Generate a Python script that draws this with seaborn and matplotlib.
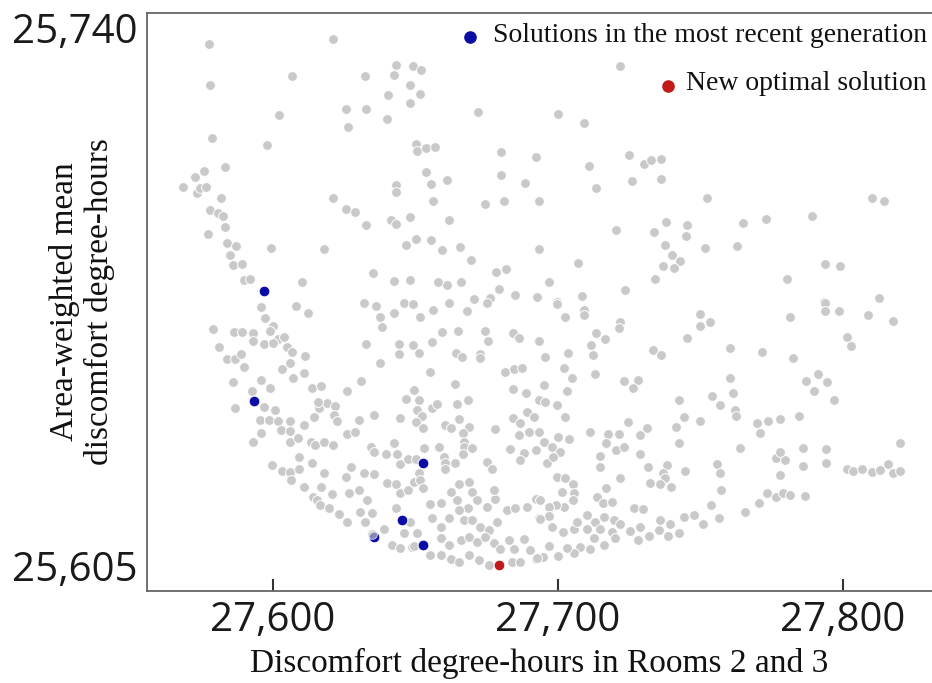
import matplotlib
matplotlib.use("Agg")
import matplotlib.pyplot as plt
import seaborn as sns

# all evaluated solutions (grey cloud)
history_x = [
    27577.4, 27621.0, 27578.0, 27606.7, 27632.4, 27643.0, 27642.6, 27649.0,
    27652.0, 27648.1, 27651.7, 27640.3, 27647.9, 27625.6, 27632.7, 27639.9,
    27626.3, 27602.0, 27671.9, 27578.5, 27597.8, 27650.3, 27650.6, 27653.8,
    27656.9, 27679.9, 27692.1, 27583.3, 27575.8, 27572.8, 27568.4, 27573.3,
    27574.3, 27576.6, 27581.8, 27653.6, 27655.5, 27661.1, 27680.0, 27688.3,
    27643.0, 27643.0, 27621.0, 27625.6, 27628.7, 27656.3, 27674.3, 27681.0,
    27693.3, 27578.0, 27580.6, 27582.5, 27583.3, 27577.1, 27632.6, 27641.3,
    27643.0, 27648.2, 27661.9, 27583.9, 27587.0, 27599.2, 27618.0, 27646.6,
    27650.3, 27655.6, 27659.2, 27665.7, 27669.6, 27693.2, 27585.0, 27585.9,
    27589.1, 27589.7, 27592.0, 27610.2, 27635.0, 27642.4, 27648.2, 27657.9,
    27661.1, 27666.0, 27678.3, 27681.7, 27679.2, 27676.3, 27684.8, 27692.6,
    27670.4,
    27721.6, 27699.9, 27709.0, 27711.0, 27713.3, 27724.8, 27730.0, 27732.6,
    27736.2, 27726.0, 27736.2, 27752.3, 27810.0, 27814.3, 27720.2, 27737.8,
    27733.8, 27745.2, 27744.9, 27737.6, 27740.0, 27742.9, 27740.8, 27736.8,
    27751.5, 27764.9, 27772.9, 27762.8, 27789.1, 27706.9, 27697.0, 27708.4,
    27699.7, 27723.4, 27734.1, 27780.3, 27793.5, 27798.8, 27793.2, 27812.5,
    27595.9, 27607.9, 27612.2, 27631.8, 27636.3, 27637.7, 27638.4, 27642.4,
    27645.9, 27649.0, 27651.5, 27656.2, 27661.6, 27667.9, 27675.1, 27597.3,
    27600.0, 27578.8, 27586.2, 27589.1, 27593.0, 27599.1, 27601.7, 27603.8,
    27593.0, 27596.7, 27600.0, 27581.0, 27604.9, 27606.7, 27583.9, 27586.8,
    27588.9, 27589.7, 27611.4, 27606.1, 27603.2, 27607.0, 27610.8, 27632.8,
    27637.7, 27644.1, 27649.0, 27644.1, 27651.2, 27655.8, 27659.3, 27665.0,
    27664.3, 27666.3, 27672.5, 27672.8, 27674.3, 27675.3, 27684.1, 27686.2,
    27692.9, 27655.2, 27681.3, 27684.5, 27687.4, 27664.0, 27586.0, 27595.9,
    27599.1, 27592.7, 27613.7, 27616.9, 27625.8, 27631.0, 27649.4, 27646.7,
    27651.1, 27684.1, 27688.6, 27693.3, 27596.8, 27600.8, 27586.5, 27595.6,
    27598.7, 27601.8, 27605.9, 27595.9, 27593.0, 27602.8, 27606.1, 27610.8,
    27614.3, 27616.1, 27619.0, 27621.9, 27621.3, 27622.5, 27615.7, 27625.8,
    27628.7, 27630.3, 27635.4, 27644.4, 27650.6, 27652.3, 27650.3, 27652.6,
    27655.8, 27657.6, 27664.6, 27668.3, 27660.5, 27662.3, 27665.4, 27668.7,
    27666.7, 27666.9, 27677.8, 27684.3, 27686.6, 27689.0, 27691.7, 27686.2,
    27689.7, 27693.3, 27606.1, 27608.7, 27613.4, 27614.9, 27618.0, 27621.0,
    27634.4, 27635.4, 27639.7, 27642.6, 27643.5, 27644.7, 27647.4, 27650.3,
    27653.1, 27658.4, 27659.9, 27660.3, 27660.5, 27663.7, 27666.9, 27666.7,
    27669.9, 27675.1, 27676.9, 27683.1, 27688.2, 27686.5, 27692.1, 27599.7,
    27603.2, 27606.1, 27606.3, 27609.0, 27609.3, 27613.7, 27617.8, 27610.8,
    27614.1, 27615.5, 27616.9, 27616.6, 27619.6, 27620.7, 27623.1, 27626.0,
    27627.4, 27625.7, 27626.6, 27630.1, 27631.8, 27635.4, 27633.0, 27630.7,
    27634.8, 27632.4, 27640.0, 27643.0, 27644.7, 27647.4, 27649.4, 27651.4,
    27651.7, 27652.7, 27643.0, 27639.1, 27641.8, 27645.9, 27648.2, 27644.5,
    27648.8, 27655.2, 27658.8, 27662.3, 27665.2, 27668.7, 27669.9, 27664.6,
    27668.3, 27671.6, 27655.8, 27658.8, 27661.7, 27665.2, 27666.9, 27669.9,
    27672.8, 27675.7, 27678.6, 27678.0, 27677.4, 27675.1, 27682.1, 27685.0,
    27689.1, 27692.1, 27693.3, 27658.8, 27661.7, 27665.8, 27668.7, 27671.6,
    27674.5, 27677.4, 27679.8, 27682.7, 27684.5, 27688.0, 27690.3, 27655.2,
    27658.8, 27662.3, 27665.2, 27668.7, 27672.2, 27675.7, 27683.9, 27686.8,
    27692.1, 27650.5, 27649.4,
    27699.6, 27702.5, 27709.0, 27709.0, 27721.9, 27721.3, 27713.4, 27716.6,
    27711.6, 27712.3, 27693.5, 27695.5, 27703.4, 27702.2, 27704.9, 27703.1,
    27695.2, 27695.5, 27699.6, 27702.5, 27713.1, 27723.3, 27727.9, 27726.3,
    27733.3, 27736.2, 27749.7, 27749.9, 27753.2, 27745.3, 27760.5, 27771.7,
    27782.5, 27781.5, 27793.5, 27793.5, 27798.7, 27808.7, 27817.4, 27801.4,
    27802.9, 27760.5, 27761.4, 27754.1, 27756.7, 27762.1, 27762.5, 27742.3,
    27791.1, 27787.1, 27794.2, 27789.9, 27796.7, 27784.7, 27744.1, 27741.5,
    27749.9, 27742.3, 27724.4, 27731.2, 27728.9, 27711.1, 27717.5, 27721.3,
    27716.9, 27720.3, 27723.0, 27769.8, 27773.6, 27777.7, 27771.0, 27763.7,
    27695.2, 27699.9, 27697.9, 27700.8, 27704.0, 27696.1, 27698.2, 27714.6,
    27714.8, 27728.6, 27731.4, 27738.2, 27737.0, 27737.6, 27732.4, 27735.7,
    27739.6, 27744.7, 27721.6, 27716.9, 27755.8, 27756.9, 27757.3, 27753.7,
    27756.6, 27776.6, 27779.8, 27778.0, 27778.0, 27786.0, 27785.9, 27794.0,
    27793.9, 27801.4, 27803.5, 27806.7, 27810.2, 27813.1, 27815.8, 27817.6,
    27819.9, 27819.8, 27773.3, 27776.3, 27778.8, 27781.5, 27786.6, 27770.4,
    27765.5, 27699.6, 27702.5, 27705.2, 27701.4, 27705.5, 27705.2, 27702.0,
    27699.4, 27696.7, 27693.8, 27713.7, 27715.8, 27718.9, 27726.5, 27729.8,
    27697.0, 27693.8, 27697.9, 27701.7, 27705.5, 27706.6, 27710.2, 27710.2,
    27713.1, 27716.0, 27714.8, 27719.5, 27721.9, 27718.9, 27725.4, 27728.6,
    27727.9, 27731.8, 27735.9, 27735.3, 27738.5, 27739.2, 27742.6, 27744.1,
    27747.6, 27750.9, 27712.5, 27716.0, 27720.1, 27711.3, 27707.8, 27705.7,
    27703.1, 27699.9, 27697.0, 27694.9, 27692.6,
]
history_y = [
    25732.8, 25733.9, 25723.1, 25725.4, 25725.2, 25727.9, 25725.6, 25727.7,
    25726.8, 25723.2, 25721.1, 25720.9, 25719.0, 25717.6, 25717.6, 25715.2,
    25713.3, 25716.2, 25716.9, 25710.8, 25709.1, 25709.4, 25707.8, 25708.5,
    25708.6, 25707.5, 25706.4, 25704.0, 25703.2, 25701.7, 25699.4, 25697.9,
    25699.1, 25699.3, 25696.7, 25702.8, 25700.1, 25701.0, 25702.1, 25700.4,
    25699.9, 25698.3, 25696.8, 25694.2, 25693.6, 25696.2, 25695.5, 25696.2,
    25696.1, 25693.9, 25693.3, 25692.7, 25690.1, 25688.4, 25690.6, 25691.6,
    25690.7, 25692.4, 25691.7, 25686.2, 25685.5, 25685.2, 25684.9, 25685.7,
    25687.1, 25686.9, 25684.6, 25685.4, 25682.4, 25684.9, 25683.5, 25681.2,
    25681.3, 25677.7, 25677.9, 25677.1, 25679.3, 25677.4, 25677.7, 25677.2,
    25676.4, 25677.1, 25679.5, 25680.3, 25675.5, 25673.4, 25674.1, 25673.6,
    25673.2,
    25727.7, 25716.4, 25714.4, 25704.3, 25699.1, 25706.9, 25704.8, 25705.6,
    25706.0, 25700.7, 25701.3, 25696.9, 25696.8, 25696.2, 25689.4, 25691.2,
    25688.8, 25690.4, 25688.0, 25685.7, 25683.5, 25682.0, 25680.4, 25681.0,
    25685.1, 25690.9, 25691.9, 25685.5, 25692.5, 25681.6, 25677.1, 25674.0,
    25672.6, 25675.3, 25677.9, 25677.9, 25681.4, 25680.8, 25672.6, 25673.4,
    25671.4, 25671.6, 25669.9, 25672.2, 25671.6, 25669.1, 25666.6, 25669.9,
    25672.3, 25672.0, 25668.9, 25670.6, 25672.3, 25670.5, 25672.3, 25668.7,
    25666.9, 25666.1, 25665.4, 25665.6, 25665.2, 25665.8, 25663.8, 25664.3,
    25663.5, 25662.8, 25663.0, 25662.1, 25662.1, 25660.9, 25659.1, 25659.1,
    25660.4, 25657.4, 25659.9, 25658.2, 25656.8, 25654.7, 25656.0, 25662.8,
    25658.2, 25662.6, 25662.5, 25660.4, 25660.5, 25663.2, 25665.6, 25665.7,
    25660.5, 25659.6, 25660.4, 25659.4, 25665.8, 25663.5, 25665.2, 25664.2,
    25663.5, 25656.2, 25656.2, 25656.8, 25657.2, 25653.3, 25653.9, 25654.3,
    25652.3, 25651.8, 25652.3, 25652.9, 25651.6, 25654.1, 25652.0, 25649.9,
    25649.6, 25652.1, 25651.3, 25649.6, 25647.9, 25647.3, 25647.7, 25645.0,
    25645.0, 25644.8, 25644.6, 25642.0, 25639.9, 25642.6, 25642.4, 25643.8,
    25645.7, 25647.7, 25648.8, 25648.1, 25646.1, 25644.8, 25649.2, 25641.7,
    25642.2, 25645.0, 25646.1, 25645.3, 25647.3, 25645.9, 25644.5, 25643.0,
    25647.7, 25648.7, 25648.7, 25649.6, 25643.8, 25643.0, 25645.2, 25643.4,
    25641.8, 25639.9, 25642.8, 25645.3, 25644.2, 25646.9, 25645.7, 25641.4,
    25642.2, 25642.2, 25639.9, 25640.7, 25639.9, 25639.1, 25639.9, 25639.1,
    25638.7, 25637.5, 25637.0, 25639.5, 25637.0, 25634.6, 25635.8, 25635.8,
    25638.3, 25638.7, 25636.4, 25634.8, 25633.6, 25634.8, 25638.7, 25637.0,
    25638.5, 25635.2, 25633.6, 25638.1, 25637.3, 25635.6, 25637.9, 25634.4,
    25633.1, 25632.9, 25630.9, 25633.6, 25636.4, 25634.8, 25632.6, 25629.4,
    25627.0, 25626.2, 25629.4, 25625.1, 25624.3, 25627.6, 25623.1, 25621.2,
    25634.0, 25631.7, 25628.0, 25628.6, 25632.5, 25632.3, 25626.3, 25623.5,
    25623.3, 25621.2, 25630.2, 25630.0, 25628.0, 25628.6, 25630.5, 25632.5,
    25630.9, 25629.0, 25624.3, 25619.4, 25615.7, 25618.5, 25621.2, 25615.0,
    25615.3, 25625.3, 25625.5, 25628.2, 25630.1, 25630.5, 25628.2, 25626.2,
    25624.3, 25626.2, 25622.0, 25620.0, 25622.0, 25623.9, 25621.6, 25621.6,
    25620.0, 25619.2, 25621.2, 25626.6, 25628.6, 25624.7, 25623.9, 25624.3,
    25624.7, 25626.6, 25622.0, 25617.3, 25615.7, 25616.9, 25617.7, 25616.5,
    25617.7, 25616.1, 25614.9, 25616.9, 25614.9, 25617.1, 25614.6, 25613.4,
    25613.4, 25612.4, 25611.8, 25613.4, 25612.2, 25611.1, 25611.8, 25611.8,
    25612.4, 25618.5, 25615.4,
    25672.0, 25669.0, 25670.6, 25669.5, 25667.9, 25666.4, 25665.2, 25663.8,
    25662.5, 25660.1, 25663.5, 25659.6, 25660.5, 25657.0, 25654.7, 25651.8,
    25653.1, 25649.2, 25648.4, 25645.7, 25655.7, 25654.0, 25654.3, 25652.3,
    25661.4, 25660.1, 25669.7, 25666.9, 25667.8, 25664.2, 25661.7, 25660.9,
    25659.5, 25669.1, 25672.2, 25670.5, 25670.4, 25669.5, 25668.1, 25664.4,
    25662.2, 25654.7, 25651.3, 25650.6, 25648.4, 25647.3, 25645.9, 25649.5,
    25655.8, 25654.0, 25653.9, 25651.6, 25649.5, 25645.9, 25645.7, 25643.4,
    25644.7, 25639.5, 25644.5, 25643.1, 25641.4, 25642.2, 25641.6, 25641.7,
    25639.5, 25637.9, 25638.6, 25644.2, 25644.7, 25645.1, 25641.8, 25638.5,
    25639.9, 25640.9, 25638.7, 25637.5, 25640.4, 25635.0, 25636.4, 25636.5,
    25634.0, 25637.1, 25634.0, 25634.4, 25632.5, 25631.3, 25630.3, 25630.0,
    25629.4, 25633.1, 25631.3, 25629.1, 25634.6, 25632.5, 25628.6, 25625.1,
    25622.1, 25636.0, 25635.7, 25637.5, 25632.1, 25638.3, 25634.1, 25638.2,
    25634.8, 25633.6, 25633.0, 25633.6, 25632.9, 25633.2, 25634.6, 25632.5,
    25633.1, 25639.6, 25627.8, 25627.0, 25627.8, 25627.4, 25627.2, 25625.6,
    25623.5, 25631.7, 25631.3, 25629.9, 25628.2, 25627.8, 25626.2, 25624.7,
    25625.1, 25624.7, 25626.2, 25626.9, 25625.6, 25625.9, 25624.3, 25624.1,
    25622.5, 25621.7, 25620.0, 25618.8, 25619.4, 25621.2, 25622.7, 25619.4,
    25621.0, 25622.4, 25619.4, 25621.6, 25620.7, 25618.8, 25619.1, 25620.0,
    25616.9, 25617.8, 25621.6, 25619.2, 25617.8, 25620.6, 25618.6, 25622.3,
    25622.7, 25620.6, 25617.3, 25615.7, 25617.3, 25614.9, 25615.3, 25613.8,
    25615.0, 25613.2, 25615.4, 25613.0, 25612.6,
]

# most recent generation (blue) and the new optimum (red)
recent_x = [27596.9, 27593.4, 27652.6, 27645.3, 27652.8, 27635.3]
recent_y = [25675.1, 25649.4, 25635.0, 25621.6, 25615.7, 25617.7]
overlap_x = [27634.8]   # grey solution partly covering a blue one
overlap_y = [25618.4]
optimal_x = [27679.4]
optimal_y = [25611.1]

x_ticks = [27600, 27700, 27800]
y_ticks = [25605, 25740]
x_range = (27555.8, 27831.2)
y_range = (25605, 25740)

assert len(history_x) == len(history_y)

GREY = "#c9c9c9"
BLUE = "#0b0ba6"
RED = "#c21a1a"

sns.set_theme(style="white")
plt.rcParams["font.family"] = ["Liberation Serif", "DejaVu Serif"]

fig = plt.figure(figsize=(9.32, 6.83), dpi=100)
ax = fig.add_axes([147 / 932, 1 - 591 / 683, 785 / 932, 578 / 683])

dot = dict(edgecolor="white", linewidth=0.7, legend=False, ax=ax)
sns.scatterplot(x=history_x, y=history_y, color=GREY, s=50, **dot)
sns.scatterplot(x=recent_x, y=recent_y, color=BLUE, s=60, **dot)
sns.scatterplot(x=overlap_x, y=overlap_y, color=GREY, s=50, alpha=0.65, **dot)
sns.scatterplot(x=optimal_x, y=optimal_y, color=RED, s=60, **dot)

ax.set_xlim(*x_range)
ax.set_ylim(*y_range)

for side in ["left", "bottom", "top"]:
    ax.spines[side].set_visible(True)
    ax.spines[side].set_color("#666666")
    ax.spines[side].set_linewidth(1.3)
ax.spines["right"].set_visible(False)

ax.set_xticks(x_ticks)
ax.set_xticklabels([f"{v:,}" for v in x_ticks])
ax.set_yticks(y_ticks)
ax.set_yticklabels([f"{v:,}" for v in y_ticks])
ax.tick_params(axis="x", direction="in", length=9, width=1.5, color="#333333",
               pad=7, labelsize=29, labelcolor="#1a1a1a", bottom=True)
ax.tick_params(axis="y", length=0, pad=7, labelsize=29, labelcolor="#1a1a1a", left=True)
for lbl in ax.get_xticklabels() + ax.get_yticklabels():
    lbl.set_fontfamily(["Open Sans", "DejaVu Sans"])
ylbls = ax.get_yticklabels()
ylbls[0].set_verticalalignment("bottom")
ylbls[1].set_verticalalignment("top")

ax.set_xlabel("Discomfort degree-hours in Rooms 2 and 3", fontsize=24, color="#111111")
ax.xaxis.set_label_coords(0.5, -0.098)
fig.text(82 / 932, 1 - 302 / 683, "Area-weighted mean\ndiscomfort degree-hours",
         rotation=90, ha="center", va="center", multialignment="center",
         fontsize=24, color="#111111", linespacing=1.15)

# legend keys
ax.scatter([(470 - 147) / 785], [(591 - 37) / 578], s=65, color=BLUE,
           transform=ax.transAxes, clip_on=False, zorder=5)
ax.scatter([(668 - 147) / 785], [(591 - 86) / 578], s=65, color=RED,
           transform=ax.transAxes, clip_on=False, zorder=5)
fig.text(927 / 932, 1 - 36 / 683, "Solutions in the most recent generation",
         ha="right", va="center", fontsize=20, color="#111111")
fig.text(927 / 932, 1 - 83 / 683, "New optimal solution",
         ha="right", va="center", fontsize=20, color="#111111")

fig.savefig("out.png", dpi=100, facecolor="white")
